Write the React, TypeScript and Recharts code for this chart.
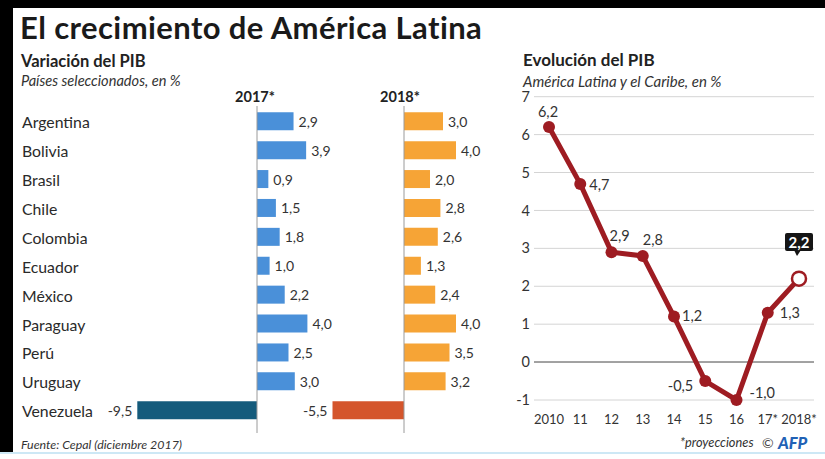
import React from "react";
import {
  BarChart,
  Bar,
  XAxis,
  YAxis,
  Cell,
  LabelList,
  ReferenceLine,
  LineChart,
  Line,
  CartesianGrid,
} from "recharts";

const countries = [
  "Argentina",
  "Bolivia",
  "Brasil",
  "Chile",
  "Colombia",
  "Ecuador",
  "México",
  "Paraguay",
  "Perú",
  "Uruguay",
  "Venezuela",
];
const gdp2017 = [2.9, 3.9, 0.9, 1.5, 1.8, 1.0, 2.2, 4.0, 2.5, 3.0, -9.5];
const gdp2018 = [3.0, 4.0, 2.0, 2.8, 2.6, 1.3, 2.4, 4.0, 3.5, 3.2, -5.5];

const years = ["2010", "11", "12", "13", "14", "15", "16", "17*", "2018*"];
const regionGdp = [6.2, 4.7, 2.9, 2.8, 1.2, -0.5, -1.0, 1.3, 2.2];
const regionTicks = [-1, 0, 1, 2, 3, 4, 5, 6, 7];

const barData = countries.map((c, i) => ({ country: c, y2017: gdp2017[i], y2018: gdp2018[i] }));
const lineData = years.map((y, i) => ({ year: y, gdp: regionGdp[i] }));

const FONT = "Lato, 'Open Sans', sans-serif";
const NARROW = "'Liberation Sans Narrow', Lato, sans-serif";
const RED = "#9e1c22";

// label offsets (dx, dy, anchor) for each point of the line; last one is the callout box
const labelOffsets: [number, number, string][] = [
  [-1, -16, "middle"],
  [9, 1, "start"],
  [-2, -17, "start"],
  [0, -16, "start"],
  [8, -1, "start"],
  [-12, 4, "end"],
  [13, -8, "start"],
  [12, 0, "start"],
];

const fmt = (v: number) => Number(v).toFixed(1).replace(".", ",");

function CountryTick(props: any) {
  const { y, payload } = props;
  return (
    <text x={22} y={y} textAnchor="start" dominantBaseline="central" fontSize={15.8} fill="#2a2a2a" fontFamily={FONT}>
      {payload.value}
    </text>
  );
}

function BarValue(props: any) {
  const { x, y, width, height, value } = props;
  const left = Math.min(x, x + width);
  const right = Math.max(x, x + width);
  const neg = value < 0;
  return (
    <text
      x={neg ? left - 5 : right + 5}
      y={y + height / 2}
      textAnchor={neg ? "end" : "start"}
      dominantBaseline="central"
      fontSize={14}
      fill="#333"
      fontFamily={FONT}
    >
      {fmt(value)}
    </text>
  );
}

function RegionDot(props: any) {
  const { cx, cy, index } = props;
  if (cx == null || cy == null) return null;
  if (index === regionGdp.length - 1) {
    return <circle cx={cx} cy={cy} r={7} fill="#fff" stroke={RED} strokeWidth={2.5} />;
  }
  return <circle cx={cx} cy={cy} r={6} fill={RED} />;
}

function RegionLabel(props: any) {
  const { x, y, value, index } = props;
  if (x == null || y == null) return null;
  const off = labelOffsets[index];
  if (!off) {
    const top = y - 45.6;
    return (
      <g>
        <rect x={x - 14} y={top} width={28} height={18} rx={2} fill="#151515" />
        <path d={`M${x - 5},${top + 17} L${x + 2},${top + 17} L${x - 2},${top + 23} Z`} fill="#151515" />
        <text x={x} y={top + 9} textAnchor="middle" dominantBaseline="central" fontSize={15} fontWeight={700} fill="#fff" fontFamily={FONT}>
          {fmt(value)}
        </text>
      </g>
    );
  }
  return (
    <text
      x={x + off[0]}
      y={y + off[1]}
      textAnchor={off[2] as any}
      dominantBaseline="central"
      fontSize={14.5}
      fill="#333"
      fontFamily={FONT}
    >
      {fmt(value)}
    </text>
  );
}

export default function App() {
  return (
    <div
      style={{
        position: "absolute",
        left: 0,
        top: 0,
        width: 825,
        height: 459,
        background: "#fff",
        overflow: "hidden",
        fontFamily: FONT,
      }}
    >
      <svg width={825} height={459} style={{ position: "absolute", left: 0, top: 0 }}>
        <rect x={0} y={0} width={825} height={8} fill="#000" />
        <rect x={0} y={0} width={13} height={452} fill="#000" />
        <rect x={0} y={452} width={825} height={2} fill="#cde8f5" />
        <text x={20} y={39} fontSize={31} fontWeight={700} letterSpacing={0.4} fill="#1a1a1a" fontFamily={FONT}>
          El crecimiento de América Latina
        </text>
        <text x={21} y={66.5} fontSize={16.5} fontWeight={700} fill="#222" fontFamily={FONT}>
          Variación del PIB
        </text>
        <text x={21} y={86} fontSize={14.6} fontStyle="italic" fill="#333" fontFamily={FONT}>
          Países seleccionados, en %
        </text>
        <text x={255} y={102} fontSize={14.5} fontWeight={700} textAnchor="middle" fill="#222" fontFamily={FONT}>
          2017*
        </text>
        <text x={400} y={102} fontSize={14.5} fontWeight={700} textAnchor="middle" fill="#222" fontFamily={FONT}>
          2018*
        </text>
        <text x={21} y={448.5} fontSize={12.4} fontStyle="italic" fill="#333" fontFamily={FONT}>
          Fuente: Cepal (diciembre 2017)
        </text>
        <text x={523} y={66} fontSize={17} fontWeight={700} fill="#222" fontFamily={FONT}>
          Evolución del PIB
        </text>
        <text x={523} y={86.5} fontSize={15} fontStyle="italic" fill="#333" fontFamily={FONT}>
          América Latina y el Caribe, en %
        </text>
        <text x={680} y={447} fontSize={12.8} fontStyle="italic" fill="#333" fontFamily={FONT}>
          *proyecciones
        </text>
        <text x={762} y={448} fontSize={14} fill="#444" fontFamily={FONT}>
          ©
        </text>
        <text x={778} y={449} fontSize={16.5} fontWeight={900} fontStyle="italic" fill="#2161b5" fontFamily={FONT}>
          AFP
        </text>
      </svg>

      {/* 2017 bars, with the country names */}
      <div style={{ position: "absolute", left: 0, top: 100 }}>
        <BarChart
          width={345}
          height={340}
          data={barData}
          layout="vertical"
          margin={{ top: 6, right: 25, left: 0, bottom: 7 }}
        >
          <XAxis type="number" domain={[-10, 5]} hide />
          <YAxis
            type="category"
            dataKey="country"
            width={131}
            axisLine={false}
            tickLine={false}
            interval={0}
            padding={{ top: 1.25, bottom: 7.85 }}
            tick={<CountryTick />}
          />
          <ReferenceLine x={0} stroke="#9a9a9a" strokeWidth={1} />
          <Bar dataKey="y2017" barSize={18} isAnimationActive={false}>
            {barData.map((d, i) => (
              <Cell key={i} fill={d.y2017 < 0 ? "#145b7c" : "#4a90d9"} />
            ))}
            <LabelList dataKey="y2017" content={<BarValue />} />
          </Bar>
        </BarChart>
      </div>

      {/* 2018 bars */}
      <div style={{ position: "absolute", left: 300, top: 100 }}>
        <BarChart
          width={190}
          height={340}
          data={barData}
          layout="vertical"
          margin={{ top: 6, right: 21, left: 26, bottom: 7 }}
        >
          <XAxis type="number" domain={[-6, 5]} hide />
          <YAxis type="category" dataKey="country" hide width={0} padding={{ top: 1.25, bottom: 7.85 }} />
          <ReferenceLine x={0} stroke="#9a9a9a" strokeWidth={1} />
          <Bar dataKey="y2018" barSize={18} isAnimationActive={false}>
            {barData.map((d, i) => (
              <Cell key={i} fill={d.y2018 < 0 ? "#d4552c" : "#f6a436"} />
            ))}
            <LabelList dataKey="y2018" content={<BarValue />} />
          </Bar>
        </BarChart>
      </div>

      {/* regional GDP line */}
      <div style={{ position: "absolute", left: 490, top: 85 }}>
        <LineChart
          width={335}
          height={350}
          data={lineData}
          margin={{ top: 11.7, right: 11, left: 4, bottom: 5 }}
        >
          <CartesianGrid vertical={false} stroke="#d4d4d4" />
          <XAxis
            dataKey="year"
            axisLine={false}
            tickLine={false}
            tickSize={0}
            tickMargin={15}
            interval={0}
            height={30}
            padding={{ left: 15, right: 15 }}
            tick={{ fontSize: 13, fill: "#333", fontFamily: NARROW }}
          />
          <YAxis
            domain={[-1, 7]}
            ticks={regionTicks}
            width={40}
            axisLine={false}
            tickLine={false}
            tickSize={0}
            tickMargin={4}
            tick={{ fontSize: 14.5, fill: "#333", fontFamily: FONT }}
          />
          <ReferenceLine y={0} stroke="#8a8a8a" strokeWidth={1.5} />
          <Line
            dataKey="gdp"
            stroke={RED}
            strokeWidth={5}
            dot={<RegionDot />}
            activeDot={false}
            isAnimationActive={false}
          >
            <LabelList dataKey="gdp" content={<RegionLabel />} />
          </Line>
        </LineChart>
      </div>
    </div>
  );
}
